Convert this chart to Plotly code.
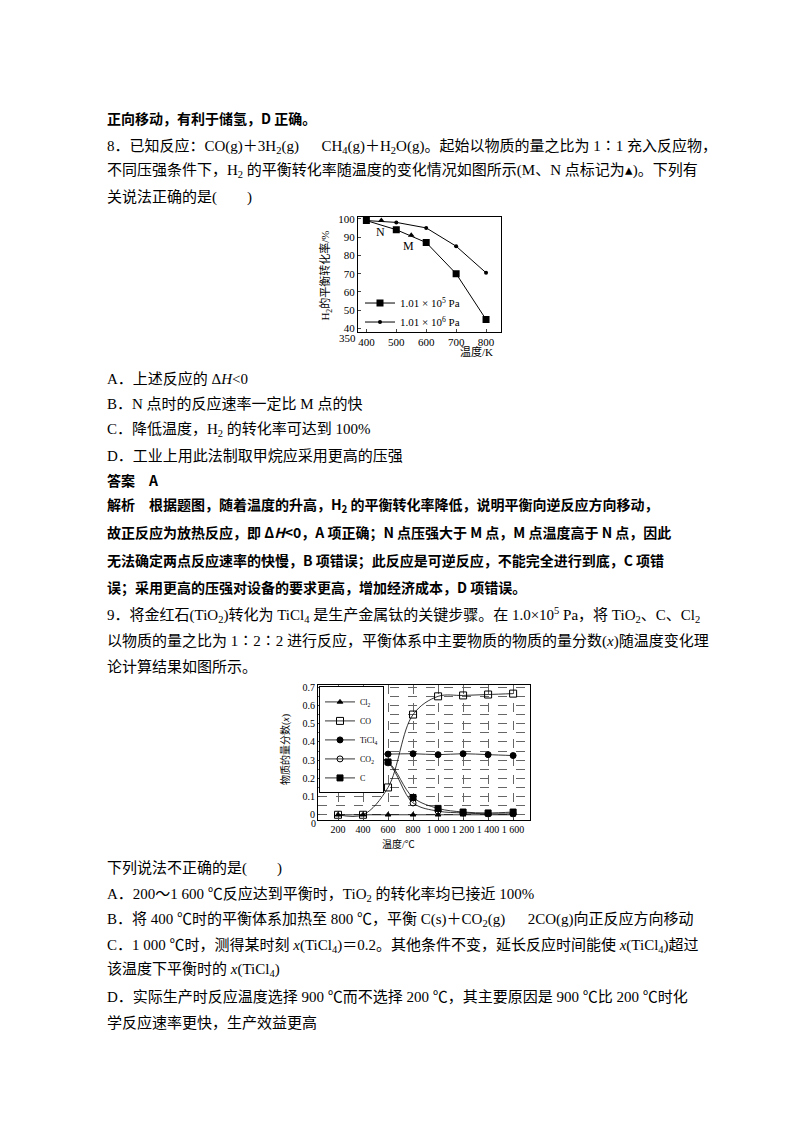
import plotly.graph_objects as go

W, H = 800, 1132

# chart 1 data
t1 = [400, 500, 600, 700, 800]
p5 = [99, 94, 87, 70, 45]
t2 = [400, 500, 600, 700, 800]
p6 = [99, 98, 95, 85, 70.5]
mn_t = [450, 550]
mn_v = [99, 91]
t1_ticks = [400, 500, 600, 700, 800]
y1_ticks = [40, 50, 60, 70, 80, 90, 100]

# chart 2 data
temps = [200, 400, 600, 800, 1000, 1200, 1400, 1600]
cl2 = [0, 0, 0, 0, 0, 0, 0, 0]
co = [0, 0, 0.15, 0.55, 0.65, 0.655, 0.66, 0.665]
ticl4 = [0.335, 0.335, 0.333, 0.335, 0.33, 0.335, 0.33, 0.325]
co2 = [0.345, 0.34, 0.285, 0.065, 0.02, 0.01, 0.005, 0.005]
c = [0.35, 0.34, 0.29, 0.095, 0.035, 0.015, 0.01, 0.015]
x2_ticks = [200, 400, 600, 800, 1000, 1200, 1400, 1600]
x2_labels = ["200", "400", "600", "800", "1 000", "1 200", "1 400", "1 600"]
y2_ticks = [0, 0.1, 0.2, 0.3, 0.4, 0.5, 0.6, 0.7]
y2_labels = ["0", "0.1", "0.2", "0.3", "0.4", "0.5", "0.6", "0.7"]

CJK = "Liberation Serif, Noto Sans CJK SC"
BOLD_CJK = "Noto Sans CJK SC"


def px(x):
    return x / W


def py(y):
    return 1 - y / H


fig = go.Figure()

# chart 1
fig.add_trace(go.Scatter(x=t1, y=p5, mode="lines+markers", name="1.01 × 10<sup>5</sup> Pa",
                         line=dict(color="black", width=1), marker=dict(symbol="square", size=7, color="black"),
                         xaxis="x", yaxis="y", legend="legend"))
fig.add_trace(go.Scatter(x=t2, y=p6, mode="lines+markers", name="1.01 × 10<sup>6</sup> Pa",
                         line=dict(color="black", width=1), marker=dict(symbol="circle", size=4, color="black"),
                         xaxis="x", yaxis="y", legend="legend"))
fig.add_trace(go.Scatter(x=mn_t, y=mn_v, mode="markers", showlegend=False,
                         marker=dict(symbol="triangle-up", size=6, color="black"), xaxis="x", yaxis="y"))

# chart 2
series = [
    ("Cl<sub>2</sub>", cl2, "triangle-up", 5),
    ("CO", co, "square-open", 7),
    ("TiCl<sub>4</sub>", ticl4, "circle", 6),
    ("CO<sub>2</sub>", co2, "circle-open", 6),
    ("C", c, "square", 6),
]
for name, vals, sym, sz in series:
    fig.add_trace(go.Scatter(x=temps, y=vals, mode="lines+markers", name=name,
                             line=dict(color="black", width=0.8, shape="spline"),
                             marker=dict(symbol=sym, size=sz, color="black", line=dict(width=1, color="black")),
                             xaxis="x2", yaxis="y2", legend="legend2"))

axfont = dict(family="Liberation Serif", size=11, color="black")
fig.update_layout(
    width=W, height=H, margin=dict(l=0, r=0, t=0, b=0),
    paper_bgcolor="white", plot_bgcolor="white", showlegend=True,
    xaxis=dict(domain=[px(350), px(493)], range=[372, 850], tickvals=t1_ticks, ticks="inside", ticklen=3,
               showline=True, mirror=True, linecolor="black", linewidth=1, showgrid=False, zeroline=False,
               tickfont=axfont),
    yaxis=dict(domain=[py(322), py(206)], range=[38, 101], tickvals=y1_ticks, ticks="inside", ticklen=3,
               showline=True, mirror=True, linecolor="black", linewidth=1, showgrid=False, zeroline=False,
               tickfont=axfont, anchor="x"),
    xaxis2=dict(domain=[px(310), px(522)], range=[40, 1735], tickvals=x2_ticks, ticktext=x2_labels,
                ticks="inside", ticklen=2, showline=True, mirror=True, linecolor="black", linewidth=1,
                showgrid=True, gridcolor="#666", griddash="dash", gridwidth=0.6, zeroline=False,
                tickfont=dict(family="Liberation Serif", size=10, color="black"), anchor="y2"),
    yaxis2=dict(domain=[py(812), py(677)], range=[-0.027, 0.71], tickvals=y2_ticks, ticktext=y2_labels,
                ticks="inside", ticklen=2, showline=True, mirror=True, linecolor="black", linewidth=1,
                showgrid=True, gridcolor="#666", griddash="dash", gridwidth=0.6, zeroline=False,
                minor=dict(dtick=0.05, showgrid=True, gridcolor="#666", griddash="dash", gridwidth=0.6),
                tickfont=dict(family="Liberation Serif", size=10, color="black"), anchor="x2"),
    legend=dict(x=px(352), y=py(278), xanchor="left", yanchor="top", bgcolor="rgba(0,0,0,0)",
                font=dict(family="Liberation Serif", size=11, color="black"), tracegroupgap=0,
                itemwidth=30),
    legend2=dict(x=px(311), y=py(678), xanchor="left", yanchor="top", bgcolor="white",
                 bordercolor="black", borderwidth=1,
                 font=dict(family="Liberation Serif", size=8, color="black"), tracegroupgap=0,
                 itemwidth=30),
)

ann = []


def text(x, y, s, size=15, family=CJK, anchor="left", angle=0, bold=False):
    if bold:
        s = "<b>" + s + "</b>"
    ann.append(dict(x=px(x), y=py(y), xref="paper", yref="paper", text=s, showarrow=False,
                    xanchor=anchor, yanchor="middle", textangle=angle,
                    font=dict(family=BOLD_CJK if bold else family, size=size, color="black")))


# chart annotations
text(372, 221, "N", size=12, family="Liberation Serif", anchor="center")
text(400, 235, "M", size=12, family="Liberation Serif", anchor="center")
text(339, 328, "350", size=11, family="Liberation Serif", anchor="center")
text(450, 341, "温度/K", size=11)
text(318, 265, "H<sub>2</sub>的平衡转化率/%", size=11, anchor="center", angle=-90)
text(305, 816, "0", size=10, family="Liberation Serif", anchor="center")
text(390, 836, "温度/℃", size=10, anchor="center")
text(277, 742, "物质的量分数(<i>x</i>)", size=10, anchor="center", angle=-90)

L = 97
text(L, 107, "正向移动，有利于储氢，D 正确。", bold=True, size=14)
text(L, 135, "8．已知反应：CO(g)＋3H<sub>2</sub>(g)　  CH<sub>4</sub>(g)＋H<sub>2</sub>O(g)。起始以物质的量之比为 1∶1 充入反应物，")
text(L, 160, "不同压强条件下，H<sub>2</sub> 的平衡转化率随温度的变化情况如图所示(M、N 点标记为▴)。下列有")
text(L, 186, "关说法正确的是(　　)")
text(L, 368, "A．上述反应的 Δ<i>H</i>&lt;0")
text(L, 394, "B．N 点时的反应速率一定比 M 点的快")
text(L, 420, "C．降低温度，H<sub>2</sub> 的转化率可达到 100%")
text(L, 446, "D．工业上用此法制取甲烷应采用更高的压强")
text(L, 470, "答案　A", bold=True, size=14)
text(L, 496, "解析　根据题图，随着温度的升高，H<sub>2</sub> 的平衡转化率降低，说明平衡向逆反应方向移动，", bold=True, size=14)
text(L, 523, "故正反应为放热反应，即 Δ<i>H</i>&lt;0，A 项正确；N 点压强大于 M 点，M 点温度高于 N 点，因此", bold=True, size=14)
text(L, 551, "无法确定两点反应速率的快慢，B 项错误；此反应是可逆反应，不能完全进行到底，C 项错", bold=True, size=14)
text(L, 578, "误；采用更高的压强对设备的要求更高，增加经济成本，D 项错误。", bold=True, size=14)
text(L, 606, "9．将金红石(TiO<sub>2</sub>)转化为 TiCl<sub>4</sub> 是生产金属钛的关键步骤。在 1.0×10<sup>5</sup> Pa，将 TiO<sub>2</sub>、C、Cl<sub>2</sub>")
text(L, 632, "以物质的量之比为 1∶2∶2 进行反应，平衡体系中主要物质的物质的量分数(<i>x</i>)随温度变化理")
text(L, 658, "论计算结果如图所示。")
text(L, 861, "下列说法不正确的是(　　)")
text(L, 887, "A．200～1 600 ℃反应达到平衡时，TiO<sub>2</sub> 的转化率均已接近 100%")
text(L, 912, "B．将 400 ℃时的平衡体系加热至 800 ℃，平衡 C(s)＋CO<sub>2</sub>(g)　  2CO(g)向正反应方向移动")
text(L, 938, "C．1 000 ℃时，测得某时刻 <i>x</i>(TiCl<sub>4</sub>)＝0.2。其他条件不变，延长反应时间能使 <i>x</i>(TiCl<sub>4</sub>)超过")
text(L, 963, "该温度下平衡时的 <i>x</i>(TiCl<sub>4</sub>)")
text(L, 990, "D．实际生产时反应温度选择 900 ℃而不选择 200 ℃，其主要原因是 900 ℃比 200 ℃时化")
text(L, 1016, "学反应速率更快，生产效益更高")

fig.update_layout(annotations=ann)
fig.write_html("out.html")
